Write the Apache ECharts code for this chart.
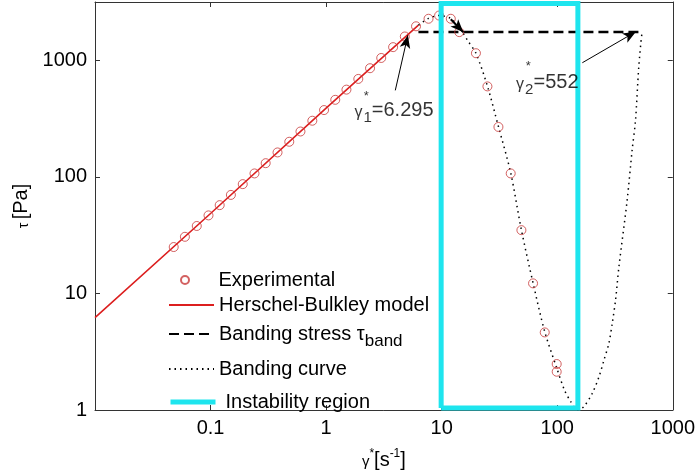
<!DOCTYPE html>
<html>
<head>
<meta charset="utf-8">
<script src="https://cdn.jsdelivr.net/npm/echarts@6/dist/echarts.min.js"></script>
<style>
html, body { margin: 0; padding: 0; background: #fff; }
#chart { width: 698px; height: 475px; }
</style>
</head>
<body>
<div id="chart"></div>
<script>
// values (shear rate in 1/s, stress in Pa)
var expRate = [0.048, 0.06, 0.076, 0.096, 0.12, 0.15, 0.19, 0.24, 0.30, 0.38, 0.48, 0.60, 0.76, 0.96,
    1.2, 1.5, 1.9, 2.4, 3.0, 3.8, 4.8, 6.0, 7.7, 9.5, 12.0, 14.2, 19.8, 24.9, 31.0, 39.6, 49.0, 61.8, 78.0, 99.0, 99.0];
var expStress = [25, 30.6, 37.9, 46.7, 57.2, 70, 86.6, 107, 131, 162, 200, 245, 303, 374,
    458, 560, 692, 855, 1047, 1296, 1600, 1957, 2271, 2420, 2271, 1745, 1150, 597, 268, 107, 34.9, 12.2, 4.63, 2.48, 2.13];

var hbRate = [0.01, 0.1, 1, 6.295];
var hbStress = [6.2, 48.5, 388, 2000];

var bandRate = [6.295, 552];
var bandStress = [1750, 1750];

var curveRate = [6.295, 7.7, 9.5, 12, 14.5, 17, 19.8, 24.9, 31, 39.6, 49, 61.8, 78, 99, 115, 131, 150,
    170, 201, 230, 254, 280, 300, 320, 342, 403, 445, 476, 508, 541, 552];
var curveStress = [2000, 2290, 2420, 2280, 1850, 1450, 1150, 600, 270, 108, 35, 12.3, 4.7, 2.3, 1.5, 1.18, 1.0,
    1.07, 1.39, 1.93, 2.68, 3.73, 5.6, 8.8, 16.9, 63, 169, 305, 875, 1700, 1750];

var boxRate = [9.9, 9.9, 151, 151, 9.9];
var boxStress = [1.04, 3070, 3070, 1.04, 1.04];

var xTickVals = [0.1, 1, 10, 100, 1000];
var xTickLabels = ['0.1', '1', '10', '100', '1000'];
var yTickVals = [1, 10, 100, 1000];
var yTickLabels = ['1', '10', '100', '1000'];

var legendNames = ['Experimental', 'Herschel-Bulkley model', 'Banding stress', 'Banding curve', 'Instability region'];

function pairs(xs, ys) {
    return xs.map(function (x, i) { return [x, ys[i]]; });
}
function tickLabel(vals, labels) {
    return function (v) {
        for (var i = 0; i < vals.length; i++) {
            if (Math.abs(Math.log10(v) - Math.log10(vals[i])) < 1e-6) return labels[i];
        }
        return '';
    };
}

var FONT = '"Liberation Sans", Arial, sans-serif';
var AXIS_COLOR = '#333';
var CYAN = '#1ee5ee';

var chart = echarts.init(document.getElementById('chart'));

function logAxis(pos, min, max, show, fmt) {
    return {
        type: 'log', logBase: 10, position: pos, min: min, max: max,
        axisLine: { show: true, lineStyle: { color: AXIS_COLOR, width: 1 } },
        axisTick: { show: true, inside: true, length: 5, lineStyle: { color: AXIS_COLOR } },
        minorTick: { show: false },
        splitLine: { show: false },
        axisLabel: { show: show, formatter: fmt, color: '#000', fontSize: 20, fontFamily: FONT, margin: 8 }
    };
}

var xMain = logAxis('bottom', 0.01, 1000, true, tickLabel(xTickVals, xTickLabels));
xMain.name = '{g|γ}{sp|*}{t|[s}{sp|-1}{t|]}';
xMain.nameLocation = 'middle';
xMain.nameGap = 38;
xMain.nameTextStyle = {
    fontFamily: FONT, color: '#000',
    rich: {
        g: { fontSize: 15, fontFamily: FONT, padding: [4, 0, 0, 0] },
        t: { fontSize: 20, fontFamily: FONT },
        sp: { fontSize: 12, fontFamily: FONT, padding: [0, 0, 12, 0] }
    }
};

var yMain = logAxis('left', 1, 3162, true, tickLabel(yTickVals, yTickLabels));
yMain.name = '{g|τ} {t|[Pa]}';
yMain.nameLocation = 'middle';
yMain.nameRotate = 90;
yMain.nameGap = 62;
yMain.nameTextStyle = {
    fontFamily: FONT, color: '#000',
    rich: {
        g: { fontSize: 14, fontFamily: FONT, padding: [6, 0, 0, 0] },
        t: { fontSize: 20, fontFamily: FONT }
    }
};

var legendLefts = [180, 168, 168, 168, 168];
var legendTops = [270, 295, 324, 359, 392];
var legendTextPad = [[0, 0, 0, 6], 0, 0, 0, [0, 0, 0, 5]];
var legends = legendNames.map(function (name, i) {
    var lg = {
        data: [name],
        left: legendLefts[i],
        top: legendTops[i],
        padding: 0,
        itemWidth: 45,
        itemHeight: i === 0 ? 8 : 14,
        selectedMode: false,
        textStyle: {
            color: '#000', fontSize: 20, fontFamily: FONT,
            padding: legendTextPad[i],
            rich: {
                a: { fontSize: 20, fontFamily: FONT, color: '#000' },
                s: { fontSize: 17, fontFamily: FONT, color: '#000', padding: [14, 0, 0, 0] }
            }
        },
        formatter: function (n) {
            return n === 'Banding stress' ? '{a|Banding stress τ}{s|band}' : n;
        }
    };
    if (i > 0) {
        // line entries: hide the marker, keep only the stroke
        lg.itemStyle = { opacity: 0 };
    }
    if (i === 4) {
        lg.lineStyle = { width: 5 };
    }
    return lg;
});

var noteLabel = function (text, rich) {
    return { show: true, position: [0, 0], align: 'left', verticalAlign: 'middle', formatter: text, color: '#000', fontFamily: FONT, rich: rich };
};
var gammaRich = {
    g: { fontSize: 16, fontFamily: FONT, color: '#000', padding: [4, 0, 0, 0] },
    sb: { fontSize: 15, fontFamily: FONT, color: '#000', padding: [16, 0, 0, 1] },
    t: { fontSize: 20, fontFamily: FONT, color: '#000' }
};
var starRich = { st: { fontSize: 13, fontFamily: FONT, color: '#000' } };

var option = {
    animation: false,
    backgroundColor: '#fff',
    grid: { left: 95, right: 24, top: 2, bottom: 65, containLabel: false },
    legend: legends,
    xAxis: [xMain, logAxis('top', 0.01, 1000, false)],
    yAxis: [yMain, logAxis('right', 1, 3162, false)],
    series: [
        {
            name: 'Herschel-Bulkley model', type: 'line', data: pairs(hbRate, hbStress),
            symbol: 'none', lineStyle: { color: '#dc1f1f', width: 1.6 }, itemStyle: { color: '#dc1f1f' }, z: 2
        },
        {
            name: 'Experimental', type: 'scatter', data: pairs(expRate, expStress),
            symbol: 'circle', symbolSize: 9,
            itemStyle: { color: 'rgba(0,0,0,0)', borderColor: '#c83a3a', borderWidth: 1 }, z: 3
        },
        {
            name: 'Banding stress', type: 'line', data: pairs(bandRate, bandStress),
            symbol: 'none', lineStyle: { color: '#000', width: 2.5, type: [10, 5] }, itemStyle: { color: '#000' }, z: 3
        },
        {
            name: 'Banding curve', type: 'line', data: pairs(curveRate, curveStress), smooth: 0.3,
            symbol: 'none', lineStyle: { color: '#000', width: 1.5, type: [1.5, 4] }, itemStyle: { color: '#000' }, z: 3
        },
        {
            name: 'Instability region', type: 'line', data: pairs(boxRate, boxStress),
            symbol: 'none', clip: false, lineStyle: { color: CYAN, width: 5, join: 'miter' }, itemStyle: { color: CYAN }, z: 4
        },
        {
            name: 'notes', type: 'scatter', symbolSize: 0, silent: true, z: 5,
            data: [
                { value: [1.76, 372], label: noteLabel('{g|γ}{sb|1}{t|=6.295}', gammaRich) },
                { value: [2.12, 490], label: noteLabel('{st|*}', starRich) },
                { value: [44.1, 647], label: noteLabel('{g|γ}{sb|2}{t|=552}', gammaRich) },
                { value: [53.5, 880], label: noteLabel('{st|*}', starRich) }
            ],
            markLine: {
                silent: true, animation: false,
                symbol: ['none', 'arrow'], symbolSize: [8, 13],
                label: { show: false },
                lineStyle: { color: '#000', width: 1, type: 'solid' },
                data: [
                    [{ coord: [3.97, 552] }, { coord: [5.1, 1640] }],
                    [{ coord: [165, 953] }, { coord: [480, 1760] }],
                    [{ coord: [12.0, 2250], lineStyle: { width: 2 } }, { coord: [15.4, 1740] }]
                ]
            }
        }
    ]
};

chart.setOption(option);
</script>
</body>
</html>
